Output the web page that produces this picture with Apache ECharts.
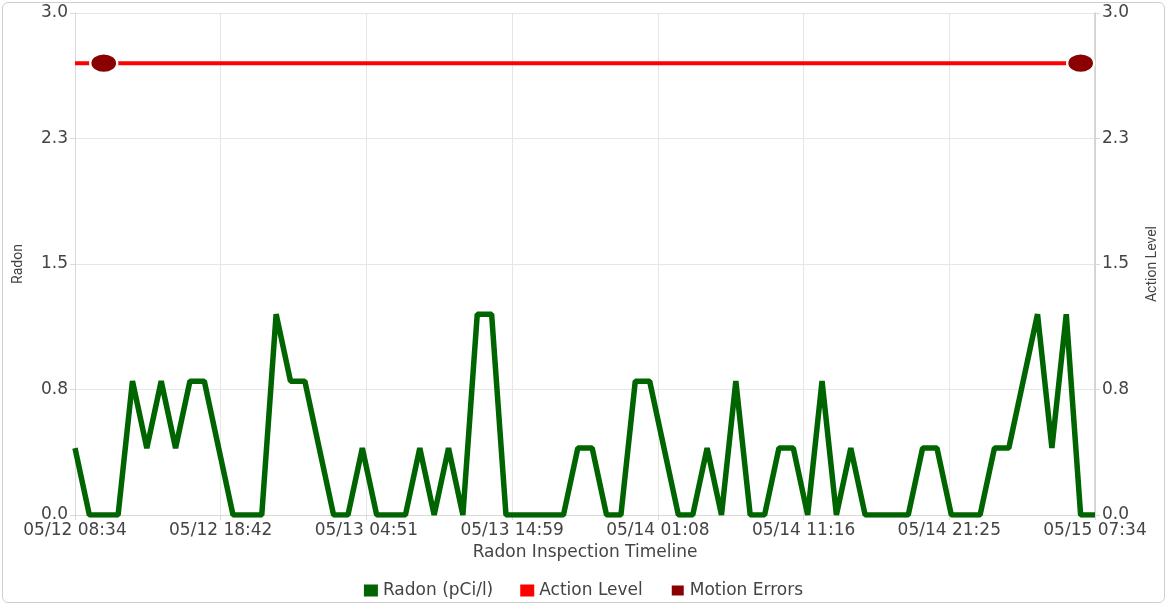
<!DOCTYPE html>
<html>
<head>
<meta charset="utf-8">
<script src="https://cdn.jsdelivr.net/npm/echarts@6/dist/echarts.min.js"></script>
<style>
  html, body { margin: 0; padding: 0; background: #ffffff; overflow: hidden; }
  #chart { position: absolute; left: 0; top: 0; width: 1167px; height: 605px; }
  #frame { position: absolute; left: 2px; top: 2px; width: 1161px; height: 599px;
           border: 1px solid #cfcfcf; border-radius: 6px; pointer-events: none; }
</style>
</head>
<body>
<div id="chart"></div>
<div id="frame"></div>
<script>
// ---- data (hourly readings starting 05/12 08:34) ----
var startTime = { month: 5, day: 12, hour: 8, minute: 34 };
var stepMinutes = 60;
var radonValues = [
  0.4, 0, 0, 0, 0.8, 0.4, 0.8, 0.4, 0.8, 0.8,
  0.4, 0, 0, 0, 1.2, 0.8, 0.8, 0.4, 0, 0,
  0.4, 0, 0, 0, 0.4, 0, 0.4, 0, 1.2, 1.2,
  0, 0, 0, 0, 0, 0.4, 0.4, 0, 0, 0.8,
  0.8, 0.4, 0, 0, 0.4, 0, 0.8, 0, 0, 0.4,
  0.4, 0, 0.8, 0, 0.4, 0, 0, 0, 0, 0.4,
  0.4, 0, 0, 0, 0.4, 0.4, 0.8, 1.2, 0.4, 1.2,
  0, 0
];
var actionLevelValue = 2.7;
var motionErrorIndices = [2, 70];
var motionErrorValues = [2.7, 2.7];
var xLabelCount = 8; // 05/12 08:34 ... 05/15 07:34

// x unit: 1/7 hour, so the 7 equal label intervals fall on integers
var UNITS_PER_HOUR = 7;
var lastIndex = radonValues.length - 1;
var xMax = lastIndex * UNITS_PER_HOUR;
var xInterval = xMax / (xLabelCount - 1);

function pad(n) { return (n < 10 ? '0' : '') + n; }
var baseMs = Date.UTC(2024, startTime.month - 1, startTime.day, startTime.hour, startTime.minute);
function fmtUnits(v) {
  var minutes = Math.floor(v * 60 / UNITS_PER_HOUR + 1e-6);
  var d = new Date(baseMs + minutes * 60000);
  return pad(d.getUTCMonth() + 1) + '/' + pad(d.getUTCDate()) + ' ' + pad(d.getUTCHours()) + ':' + pad(d.getUTCMinutes());
}
function xOf(i) { return i * (stepMinutes / 60) * UNITS_PER_HOUR; }

var radonData = radonValues.map(function (v, i) { return [xOf(i), v]; });
var actionData = [[xOf(0), actionLevelValue], [xOf(lastIndex), actionLevelValue]];
var motionData = motionErrorIndices.map(function (idx, k) { return [xOf(idx), motionErrorValues[k]]; });

var labelFont = 'DejaVu Sans';
var textColor = '#444444';

var chart = echarts.init(document.getElementById('chart'), null, { renderer: 'canvas', width: 1167, height: 605 });
chart.setOption({
  backgroundColor: '#ffffff',
  animation: false,
  grid: { left: 75, right: 68, top: 13, bottom: 90, containLabel: false },
  legend: {
    top: 577,
    left: 'center',
    itemWidth: 14,
    itemHeight: 12,
    itemGap: 27,
    icon: 'rect',
    textStyle: { fontFamily: labelFont, fontSize: 17, color: textColor },
    data: ['Radon (pCi/l)', 'Action Level', 'Motion Errors']
  },
  xAxis: {
    type: 'value',
    min: 0,
    max: xMax,
    interval: xInterval,
    name: 'Radon Inspection Timeline',
    nameLocation: 'middle',
    nameGap: 29,
    nameTextStyle: { fontFamily: labelFont, fontSize: 17, color: textColor },
    axisLine: { show: true, lineStyle: { color: '#d9d9d9', width: 1 } },
    axisTick: { show: true, length: 5, lineStyle: { color: '#d9d9d9' } },
    axisLabel: { margin: 7, fontFamily: labelFont, fontSize: 17, color: textColor, formatter: fmtUnits },
    splitLine: { show: true, lineStyle: { color: '#e6e6e6', width: 1 } }
  },
  yAxis: [
    {
      type: 'value', position: 'left', min: 0, max: 3, interval: 0.75,
      name: 'Radon', nameLocation: 'middle', nameGap: 50, nameRotate: 90,
      nameTextStyle: { fontFamily: 'Roboto', fontSize: 14, color: textColor },
      axisLine: { show: true, lineStyle: { color: '#d9d9d9', width: 1 } },
      axisTick: { show: true, length: 5, lineStyle: { color: '#d9d9d9' } },
      axisLabel: { margin: 7, fontFamily: labelFont, fontSize: 17, color: textColor,
                   formatter: function (v) { return v.toFixed(1); } },
      splitLine: { show: true, lineStyle: { color: '#e6e6e6', width: 1 } }
    },
    {
      type: 'value', position: 'right', min: 0, max: 3, interval: 0.75,
      name: 'Action Level', nameLocation: 'middle', nameGap: 50, nameRotate: 90,
      nameTextStyle: { fontFamily: 'Roboto', fontSize: 14, color: textColor },
      axisLine: { show: true, lineStyle: { color: '#cccccc', width: 1.5 } },
      axisTick: { show: true, length: 5, lineStyle: { color: '#d9d9d9' } },
      axisLabel: { margin: 7, fontFamily: labelFont, fontSize: 17, color: textColor,
                   formatter: function (v) { return v.toFixed(1); } },
      splitLine: { show: false }
    }
  ],
  series: [
    {
      name: 'Radon (pCi/l)', type: 'line', yAxisIndex: 0,
      data: radonData, showSymbol: false, symbol: 'none',
      color: '#006400',
      lineStyle: { color: '#006400', width: 5.5, join: 'bevel' },
      z: 3
    },
    {
      name: 'Action Level', type: 'line', yAxisIndex: 1,
      data: actionData, showSymbol: false, symbol: 'none',
      color: '#ff0000',
      lineStyle: { color: '#ff0000', width: 4 },
      z: 4
    },
    {
      name: 'Motion Errors', type: 'scatter', yAxisIndex: 1,
      data: motionData, symbol: 'circle', symbolSize: [27, 19],
      color: '#8b0000',
      itemStyle: { color: '#8b0000', opacity: 1, borderColor: '#ffffff', borderWidth: 2 },
      z: 5
    }
  ]
});
</script>
</body>
</html>
